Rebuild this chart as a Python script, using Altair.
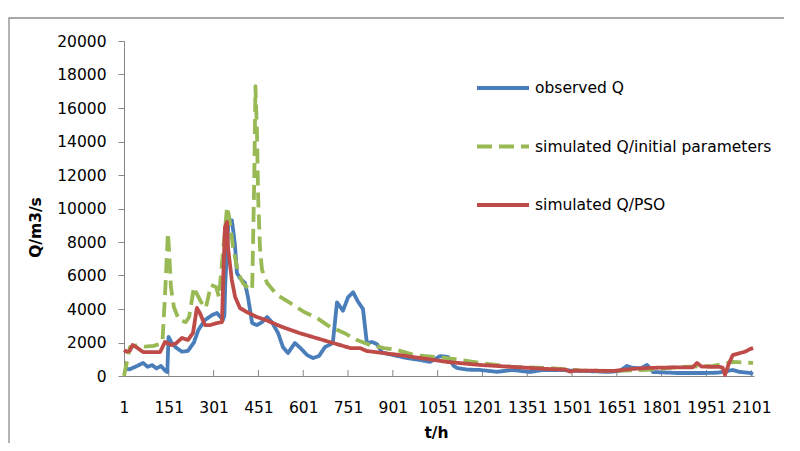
import altair as alt
import pandas as pd

series_names = ["observed Q", "simulated Q/initial parameters", "simulated Q/PSO"]
series_colors = ["#4A7EBB", "#98B954", "#BE4B48"]

obs_t = [1, 20, 45, 65, 80, 95, 110, 125, 140, 146, 150, 160, 175, 195, 215, 235, 250, 272,
         296, 312, 325, 332, 337, 340, 350, 362, 368, 373, 379, 389, 406, 416, 430, 446, 462,
         480, 496, 517, 533, 550, 573, 590, 614, 634, 654, 674, 700, 714, 734, 751, 768, 784,
         801, 814, 831, 848, 865, 902, 948, 992, 1026, 1059, 1086, 1105, 1116, 1150, 1193,
         1250, 1300, 1360, 1400, 1460, 1520, 1580, 1620, 1660, 1685, 1700, 1730, 1752, 1772,
         1850, 1950, 1990, 2039, 2060, 2097, 2107]
obs_q = [450, 400, 600, 780, 550, 650, 450, 600, 300, 240, 2330, 2000, 1700, 1450, 1500, 2000,
         2750, 3340, 3640, 3760, 3500, 3340, 3600, 5500, 9000, 9300, 8500, 7700, 6150, 5850,
         5550, 4720, 3160, 3040, 3200, 3520, 3220, 2560, 1730, 1370, 1970, 1700, 1250, 1070,
         1200, 1730, 1970, 4400, 3900, 4700, 5000, 4450, 4000, 1970, 2030, 1900, 1400, 1250,
         1070, 955, 840, 1190, 1130, 600, 480, 380, 360, 250, 360, 240, 350, 360, 300, 280,
         240, 300, 600, 500, 450, 660, 240, 180, 180, 200, 360, 250, 180, 120]

ini_t = [1, 12, 21, 45, 70, 100, 120, 130, 138, 148, 151, 158, 168, 185, 208, 219, 235, 242,
         259, 275, 292, 309, 319, 329, 346, 353, 366, 383, 399, 416, 430, 437, 441, 446, 450,
         456, 463, 480, 513, 557, 604, 647, 691, 738, 781, 825, 872, 915, 972, 1082, 1193,
         1303, 1417, 1528, 1638, 1752, 1862, 1972, 2039, 2080, 2107]
ini_q = [0, 955, 1730, 1850, 1750, 1800, 1900, 2150, 4720, 8540, 7800, 5310, 4120, 3340, 3220,
         3520, 5310, 5000, 4420, 4060, 5430, 5310, 4720, 6750, 10090, 9500, 7700, 6150, 5550,
         5250, 5130, 11700, 17300, 14700, 10700, 7700, 6330, 5550, 4840, 4360, 3820, 3460,
         2930, 2570, 2150, 1850, 1670, 1550, 1250, 1070, 780, 540, 480, 330, 300, 360, 540,
         600, 840, 800, 780]

pso_t = [1, 10, 20, 30, 40, 65, 122, 138, 160, 175, 195, 215, 232, 245, 255, 272, 289, 312,
         329, 333, 339, 346, 349, 362, 373, 389, 412, 446, 476, 530, 587, 644, 701, 758, 791,
         814, 868, 925, 969, 1030, 1082, 1193, 1303, 1417, 1480, 1494, 1510, 1638, 1700, 1752,
         1862, 1905, 1919, 1935, 1996, 2005, 2013, 2025, 2039, 2063, 2080, 2097, 2107]
pso_q = [1550, 1450, 1500, 1850, 1750, 1430, 1430, 2030, 1850, 1950, 2270, 2150, 2570, 4060,
         3760, 3040, 3040, 3160, 3220, 5730, 8900, 9200, 7700, 5730, 4720, 4060, 3820, 3520,
         3340, 2930, 2570, 2270, 1970, 1670, 1670, 1490, 1370, 1250, 1130, 980, 840, 660, 540,
         420, 380, 260, 330, 300, 420, 480, 520, 520, 780, 560, 540, 500, 60, 700, 1250, 1370,
         1450, 1610, 1670]

x_ticks = [1, 151, 301, 451, 601, 751, 901, 1051, 1201, 1351, 1501, 1651, 1801, 1951, 2101]
y_ticks = [0, 2000, 4000, 6000, 8000, 10000, 12000, 14000, 16000, 18000, 20000]

rows = []
for name, ts, qs in zip(series_names, [obs_t, ini_t, pso_t], [obs_q, ini_q, pso_q]):
    for t, q in zip(ts, qs):
        rows.append({"series": name, "t": t, "q": q})
df = pd.DataFrame(rows)

FONT = "DejaVu Sans"
W, H = 630, 335

xscale = alt.Scale(domain=[1, 2110], nice=False, zero=False)
yscale = alt.Scale(domain=[0, 20000], nice=False)

x_axis = alt.Axis(
    values=x_ticks, format="d", title="t/h", ticks=False,
    labelPadding=24, labelFlush=False, labelOverlap=False,
    titleX=312, titleY=56, titleBaseline="middle", titleAlign="center")
x_enc = alt.X("t:Q", scale=xscale, axis=x_axis)

legend = alt.Legend(
    title=None, orient="none", legendX=351, legendY=19,
    symbolType="stroke", symbolSize=2704, symbolStrokeWidth=4,
    labelFont=FONT, labelFontSize=15.5, labelColor="#000000", labelOffset=4,
    labelLimit=0, rowPadding=21.5, padding=0,
)

lines = alt.Chart(df).mark_line(strokeWidth=3.8, strokeJoin="round").encode(
    x=x_enc,
    y=alt.Y("q:Q", scale=yscale, axis=alt.Axis(
        values=y_ticks, format="d", title="Q/m3/s", tickSize=6, labelPadding=12,
        titleX=-89, titleY=186, titleBaseline="middle", titleAlign="center")),
    color=alt.Color("series:N", scale=alt.Scale(domain=series_names, range=series_colors),
                    legend=legend),
    strokeDash=alt.StrokeDash("series:N", scale=alt.Scale(
        domain=series_names, range=[[1, 0], [15, 7], [1, 0]]), legend=legend),
)

tick_df = pd.DataFrame({"t": x_ticks})
xtick_marks = alt.Chart(tick_df).mark_rule(color="#868686", strokeWidth=1).encode(
    x=x_enc,
    y=alt.value(H - 6),
    y2=alt.value(H),
)

frame = alt.Chart(pd.DataFrame({"a": [0]})).mark_rect(
    fillOpacity=0, stroke="#8c8c8c", strokeWidth=1.3).encode(
    x=alt.value(-115), x2=alt.value(720), y=alt.value(-23), y2=alt.value(460))

chart = alt.layer(frame, xtick_marks, lines).properties(
    width=W, height=H,
    autosize=alt.AutoSizeParams(type="none"),
    padding={"left": 116, "top": 33, "right": 30, "bottom": 67},
    background="white",
).configure_view(stroke=None).configure_axis(
    grid=False, domainColor="#868686", domainWidth=1, tickColor="#868686",
    labelFont=FONT, labelFontSize=15.5, labelColor="#000000",
    titleFont=FONT, titleFontSize=15.5, titleFontWeight="bold", titleColor="#000000",
)

chart.save("out.html", embed_options={"renderer": "svg", "actions": False})
